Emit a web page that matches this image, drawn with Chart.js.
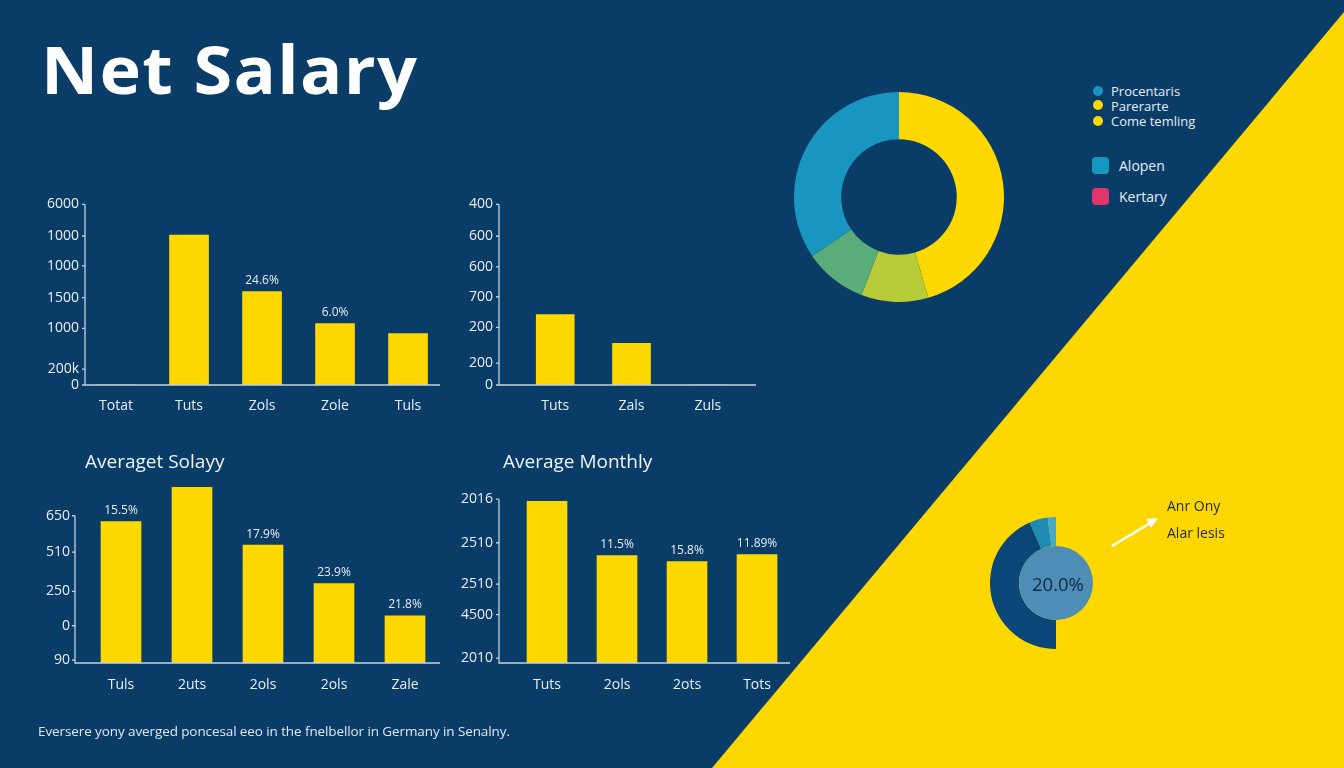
<!DOCTYPE html>
<html><head><meta charset="utf-8">
<script src="https://cdn.jsdelivr.net/npm/chart.js@4.4.1/dist/chart.umd.min.js"></script>
<style>
html,body{margin:0;padding:0;}
body{width:1344px;height:768px;overflow:hidden;background:#0a3c68;position:relative;font-family:'Open Sans',sans-serif;}
#tri{position:absolute;left:0;top:0;width:1344px;height:768px;background:#fdd800;clip-path:polygon(1344px 12px,1344px 768px,712px 768px);}
canvas{position:absolute;}
.t{position:absolute;white-space:nowrap;line-height:1;transform:translateY(-50%);}
.dot{position:absolute;width:10px;height:10px;border-radius:50%;}
.sq{position:absolute;width:17px;height:17px;border-radius:4px;}
</style></head><body>
<div id="tri"></div>
<div style="position:absolute;left:41px;top:33px;font-size:67px;line-height:70px;font-weight:700;color:#fff;letter-spacing:1.2px;white-space:nowrap;transform:scaleX(1.05);transform-origin:left top;">Net Salary</div>

<canvas id="c1" width="405" height="230" style="left:35px;top:190px"></canvas>
<canvas id="c2" width="307" height="230" style="left:449px;top:190px"></canvas>
<canvas id="c3" width="415" height="228" style="left:25px;top:470px"></canvas>
<canvas id="c4" width="341" height="220" style="left:449px;top:478px"></canvas>
<canvas id="d1" width="210" height="210" style="left:794px;top:92px"></canvas>
<canvas id="d2" width="200" height="132" style="left:923px;top:517px"></canvas>

<div class="t" style="left:85px;top:461px;font-size:19px;color:#f0f4f8;">Averaget Solayy</div>
<div class="t" style="left:503px;top:461px;font-size:19px;color:#f0f4f8;">Average Monthly</div>

<div class="dot" style="left:1093px;top:86px;background:#1896bf"></div>
<div class="dot" style="left:1093px;top:100px;background:#ffd800"></div>
<div class="dot" style="left:1093px;top:116px;background:#ffd800"></div>
<div class="t" style="left:1111px;top:91px;font-size:13px;color:#e6edf4;">Procentaris</div>
<div class="t" style="left:1111px;top:106px;font-size:13px;color:#e6edf4;">Parerarte</div>
<div class="t" style="left:1111px;top:121px;font-size:13px;color:#e6edf4;">Come temling</div>
<div class="sq" style="left:1092px;top:157px;background:#1399bf"></div>
<div class="sq" style="left:1092px;top:188px;background:#e0356a"></div>
<div class="t" style="left:1119px;top:166px;font-size:14px;color:#e6edf4;">Alopen</div>
<div class="t" style="left:1119px;top:197px;font-size:14px;color:#e6edf4;">Kertary</div>

<div class="t" style="left:1032px;top:584px;font-size:18.5px;color:#0f2a45;">20.0%</div>
<svg style="position:absolute;left:0;top:0" width="1344" height="768">
  <line x1="1112" y1="546" x2="1152" y2="522" stroke="#fff" stroke-width="2.5"/>
  <polygon points="1158,518 1146,519 1151,528" fill="#fff"/>
</svg>
<div class="t" style="left:1167px;top:506px;font-size:14px;color:#1d2730;">Anr Ony</div>
<div class="t" style="left:1167px;top:533px;font-size:14px;color:#1d2730;">Alar lesis</div>

<div class="t" style="left:38px;top:732px;font-size:13.5px;letter-spacing:-0.1px;color:#dfe8f0;">Eversere yony averged poncesal eeo in the fnelbellor in Germany in Senalny.</div>

<script>
// ---- data ----
const c1Labels = ['Totat', 'Tuts', 'Zols', 'Zole', 'Tuls'];
const c1Values = [0, 4980, 3100, 2040, 1710];
const c1BarText = ['', '', '24.6%', '6.0%', ''];
const c1TickValues = [6000, 4950, 3960, 2900, 1880, 530, 0];
const c1TickLabels = ['6000', '1000', '1000', '1500', '1000', '200k', '0'];

const c2Labels = ['Tuts', 'Zals', 'Zuls'];
const c2Values = [312, 185, 0];
const c2BarText = ['', '', ''];
const c2TickValues = [800, 659, 523, 391, 255, 97, 0];
const c2TickLabels = ['400', '600', '600', '700', '200', '200', '0'];

const c3Labels = ['Tuls', '2uts', '2ols', '2ols', 'Zale'];
const c3Values = [630, 783, 525, 354, 210];
const c3BarText = ['15.5%', '', '17.9%', '23.9%', '21.8%'];
const c3TickValues = [656, 494, 319, 166, 13];
const c3TickLabels = ['650', '510', '250', '0', '90'];

const c4Labels = ['Tuts', '2ols', '2ots', 'Tots'];
const c4Values = [948, 630, 595, 636];
const c4BarText = ['', '11.5%', '15.8%', '11.89%'];
const c4TickValues = [960, 705, 462, 283, 29];
const c4TickLabels = ['2016', '2510', '2510', '4500', '2010'];

const ringLabels = ['Parerarte', 'Come temling', 'Alopen', 'Procentaris'];
const ringValues = [45.5, 10.3, 9.7, 34.5];

const halfLabels = ['Anr Ony', 'Alar lesis', 'Kertary'];
const halfValues = [87, 9, 4];

// ---- styles ----
const YELLOW = '#ffd800';
const TEXT = '#e9eff5';
const AXIS = '#c5d3e0';
Chart.defaults.font.family = "'Open Sans', sans-serif";

const axisPlugin = {
  id: 'axisLines',
  afterDatasetsDraw(chart) {
    const {ctx, chartArea: a, scales: {y}} = chart;
    const top = y.getPixelForValue(Math.max(...y.ticks.map(t => t.value)));
    ctx.save();
    ctx.strokeStyle = AXIS; ctx.lineWidth = 1.3;
    ctx.beginPath();
    ctx.moveTo(a.left, top); ctx.lineTo(a.left, a.bottom); ctx.lineTo(a.right, a.bottom);
    y.ticks.forEach(t => { const p = y.getPixelForValue(t.value); ctx.moveTo(a.left - 3, p); ctx.lineTo(a.left, p); });
    ctx.stroke(); ctx.restore();
  }
};
const barTextPlugin = {
  id: 'barText',
  afterDatasetsDraw(chart, args, opts) {
    const meta = chart.getDatasetMeta(0), ctx = chart.ctx;
    ctx.save(); ctx.fillStyle = TEXT; ctx.font = "12px 'Open Sans'";
    ctx.textAlign = 'center'; ctx.textBaseline = 'middle';
    meta.data.forEach((bar, i) => { const t = opts.texts[i]; if (t) ctx.fillText(t, bar.x, bar.y - 11); });
    ctx.restore();
  }
};

function barChart(id, c) {
  return new Chart(document.getElementById(id), {
    type: 'bar',
    data: {datasets: [{data: c.values.map((v, i) => ({x: i, y: v})), backgroundColor: YELLOW, borderWidth: 0, barThickness: c.barW}]},
    options: {
      responsive: false, animation: false,
      layout: {padding: {top: c.padTop, left: 0, right: 0, bottom: 0}},
      plugins: {legend: {display: false}, tooltip: {enabled: false}, barText: {texts: c.barText}},
      scales: {
        x: {type: 'linear', min: c.xMin, max: c.xMax, offset: false,
            grid: {display: false, drawTicks: false, offset: false}, border: {display: false},
            afterBuildTicks: s => { s.ticks = c.labels.map((_, i) => ({value: i})); },
            afterFit: s => { s.height = 35; },
            ticks: {color: TEXT, font: {size: 14}, padding: c.xPad, autoSkip: false, maxRotation: 0,
                    callback: v => c.labels[v]}},
        y: {min: 0, max: c.yMax,
            grid: {display: false, drawTicks: false}, border: {display: false},
            afterBuildTicks: s => { s.ticks = c.tickValues.map(v => ({value: v})); },
            afterFit: s => { s.width = 50; },
            ticks: {color: TEXT, font: {size: 14}, padding: c.yPad, autoSkip: false,
                    callback: (v, i) => c.tickLabels[i]}}
      }
    },
    plugins: [axisPlugin, barTextPlugin]
  });
}

barChart('c1', {labels: c1Labels, values: c1Values, barText: c1BarText, tickValues: c1TickValues, tickLabels: c1TickLabels,
  yMax: 6000, xMin: -0.425, xMax: 4.438, barW: 39, padTop: 13, xPad: 13, yPad: 6});
barChart('c2', {labels: c2Labels, values: c2Values, barText: c2BarText, tickValues: c2TickValues, tickLabels: c2TickLabels,
  yMax: 800, xMin: -0.737, xMax: 2.632, barW: 38, padTop: 13, xPad: 13, yPad: 6});
barChart('c3', {labels: c3Labels, values: c3Values, barText: c3BarText, tickValues: c3TickValues, tickLabels: c3TickLabels,
  yMax: 800, xMin: -0.648, xMax: 4.493, barW: 40, padTop: 10, xPad: 14, yPad: 5});
barChart('c4', {labels: c4Labels, values: c4Values, barText: c4BarText, tickValues: c4TickValues, tickLabels: c4TickLabels,
  yMax: 1000, xMin: -0.686, xMax: 3.471, barW: 40, padTop: 12, xPad: 14, yPad: 6});

new Chart(document.getElementById('d1'), {
  type: 'doughnut',
  data: {labels: ringLabels, datasets: [{data: ringValues, backgroundColor: ['#ffd800', '#b8cc3a', '#5aad78', '#1896bf'], borderWidth: 0}]},
  options: {responsive: false, animation: false, cutout: '55%',
    plugins: {legend: {display: false}, tooltip: {enabled: false}}}
});

const innerFill = {
  id: 'innerFill',
  afterDatasetsDraw(chart) {
    const arc = chart.getDatasetMeta(0).data[0], ctx = chart.ctx;
    ctx.save(); ctx.fillStyle = '#4d8db6';
    ctx.beginPath(); ctx.arc(arc.x, arc.y, arc.innerRadius, 0, Math.PI * 2); ctx.fill();
    ctx.restore();
  }
};
new Chart(document.getElementById('d2'), {
  type: 'doughnut',
  data: {labels: halfLabels, datasets: [{data: halfValues, backgroundColor: ['#0a4677', '#1e8cb2', '#47a9c7'], borderWidth: 0}]},
  options: {responsive: false, animation: false, cutout: '56%', rotation: 180, circumference: 180,
    plugins: {legend: {display: false}, tooltip: {enabled: false}}},
  plugins: [innerFill]
});
</script>
</body></html>
